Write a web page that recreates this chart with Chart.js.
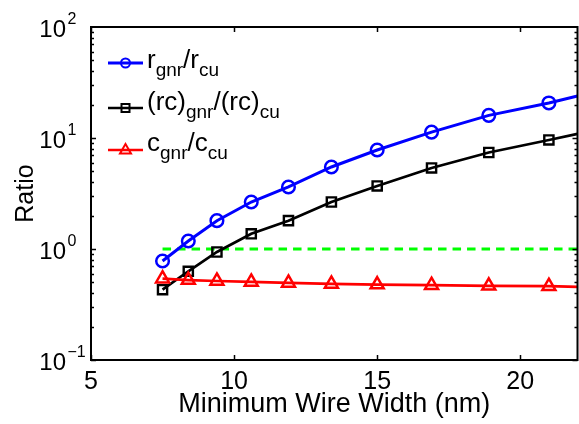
<!DOCTYPE html>
<html>
<head>
<meta charset="utf-8">
<script src="https://cdn.jsdelivr.net/npm/chart.js@4.4.1/dist/chart.umd.min.js"></script>
<style>
  html, body { margin: 0; padding: 0; background: #fff; overflow: hidden; }
</style>
</head>
<body>
<canvas id="ratio-chart" width="579" height="424"></canvas>
<script>
// minimum wire width (nm); the last entry is where the curves leave the box
const wireWidth = [7.5, 8.4, 9.4, 10.6, 11.9, 13.4, 15.0, 16.9, 18.9, 21.0, 22];
const rRatio = [0.78, 1.18, 1.8, 2.65, 3.62, 5.48, 7.8, 11.3, 16.0, 20.7, 23.9];
const rcRatio = [0.43, 0.63, 0.94, 1.37, 1.8, 2.65, 3.7, 5.37, 7.4, 9.6, 10.9];
const cRatio = [0.54, 0.525, 0.515, 0.505, 0.495, 0.485, 0.478, 0.472, 0.466, 0.462, 0.455];
const refWidth = [7.5, 22];
const refRatio = [1, 1];

const xTicks = [5, 10, 15, 20];
const yExponents = [-1, 0, 1, 2];

const FONT = "'Liberation Sans', Arial, Helvetica, sans-serif";

function toPoints(xs, ys) {
  return xs.map((x, i) => ({ x: x, y: ys[i] }));
}

// hide the marker on the edge point
function radii(r) {
  return wireWidth.map((w, i) => (i === wireWidth.length - 1 ? 0 : r));
}

const legendRows = [
  { color: "#0000ff", lw: 3, marker: "circle", lineY: 63, base: 68,
    parts: [["r", 0], ["gnr", 1], ["/r", 0], ["cu", 1]] },
  { color: "#000000", lw: 2.5, marker: "square", lineY: 108, base: 110,
    parts: [["(rc)", 0], ["gnr", 1], ["/(rc)", 0], ["cu", 1]] },
  { color: "#ff0000", lw: 2.5, marker: "triangle", lineY: 150, base: 151,
    parts: [["c", 0], ["gnr", 1], ["/c", 0], ["cu", 1]] },
];

function drawMarker(ctx, kind, x, y, color) {
  ctx.save();
  ctx.strokeStyle = color;
  ctx.lineWidth = 2;
  ctx.beginPath();
  if (kind === "circle") {
    ctx.arc(x, y, 4.5, 0, Math.PI * 2);
  } else if (kind === "square") {
    ctx.rect(x - 4, y - 4, 8, 8);
  } else {
    ctx.moveTo(x, y - 6);
    ctx.lineTo(x + 5.5, y + 3.5);
    ctx.lineTo(x - 5.5, y + 3.5);
    ctx.closePath();
  }
  ctx.stroke();
  ctx.restore();
}

const matlabFrame = {
  id: "matlabFrame",
  afterDraw(chart) {
    const ctx = chart.ctx;
    const a = chart.chartArea;
    const xs = chart.scales.x;
    const ys = chart.scales.y;
    ctx.save();
    ctx.strokeStyle = "#000";

    // box
    ctx.lineWidth = 2;
    ctx.strokeRect(a.left, a.top, a.right - a.left, a.bottom - a.top);

    // x ticks, inward, top and bottom
    ctx.lineWidth = 1.5;
    ctx.beginPath();
    xTicks.forEach((v) => {
      const px = Math.round(xs.getPixelForValue(v)) + 0.5;
      ctx.moveTo(px, a.bottom);
      ctx.lineTo(px, a.bottom - 5);
      ctx.moveTo(px, a.top);
      ctx.lineTo(px, a.top + 5);
    });
    // y ticks, major and minor, left and right
    for (let e = -1; e <= 1; e++) {
      for (let m = 1; m <= 9; m++) {
        const v = m * Math.pow(10, e);
        const py = Math.round(ys.getPixelForValue(v)) + 0.5;
        const len = m === 1 ? 5 : 3;
        ctx.moveTo(a.left, py);
        ctx.lineTo(a.left + len, py);
        ctx.moveTo(a.right, py);
        ctx.lineTo(a.right - len, py);
      }
    }
    ctx.stroke();

    // y tick labels 10^n
    ctx.fillStyle = "#000";
    yExponents.forEach((e) => {
      const py = ys.getPixelForValue(Math.pow(10, e));
      ctx.font = "24px " + FONT;
      ctx.textAlign = "right";
      ctx.textBaseline = "alphabetic";
      ctx.fillText("10", 66, py + 10);
      ctx.font = "16px " + FONT;
      ctx.textAlign = "left";
      ctx.fillText(e < 0 ? "\u2212" + (-e) : String(e), 67.5, py - 3);
    });

    // y axis title
    ctx.save();
    ctx.translate(33, (a.top + a.bottom) / 2);
    ctx.rotate(-Math.PI / 2);
    ctx.font = "25px " + FONT;
    ctx.textAlign = "center";
    ctx.textBaseline = "alphabetic";
    ctx.fillText("Ratio", 0, 0);
    ctx.restore();

    // legend
    legendRows.forEach((row) => {
      ctx.save();
      ctx.strokeStyle = row.color;
      ctx.lineWidth = row.lw;
      ctx.beginPath();
      ctx.moveTo(108, row.lineY);
      ctx.lineTo(143, row.lineY);
      ctx.stroke();
      ctx.restore();
      drawMarker(ctx, row.marker, 125.5, row.lineY, row.color);

      let tx = 147;
      ctx.textAlign = "left";
      ctx.textBaseline = "alphabetic";
      ctx.fillStyle = "#000";
      row.parts.forEach(([txt, sub]) => {
        ctx.font = (sub ? "19px " : "26px ") + FONT;
        ctx.fillText(txt, tx, row.base + (sub ? 8 : 0));
        tx += ctx.measureText(txt).width;
      });
    });

    ctx.restore();
  },
};

const ratioChart = new Chart(document.getElementById("ratio-chart"), {
  type: "line",
  data: {
    datasets: [
      {
        label: "ref",
        data: toPoints(refWidth, refRatio),
        borderColor: "#00ff00",
        borderWidth: 3,
        borderDash: [8.5, 6],
        pointRadius: 0,
        order: 10,
      },
      {
        label: "r_gnr/r_cu",
        data: toPoints(wireWidth, rRatio),
        borderColor: "#0000ff",
        borderWidth: 3,
        pointStyle: "circle",
        pointRadius: radii(6.3),
        pointBorderWidth: 2.5,
        pointBorderColor: "#0000ff",
        pointBackgroundColor: "rgba(0,0,0,0)",
        order: 3,
      },
      {
        label: "(rc)_gnr/(rc)_cu",
        data: toPoints(wireWidth, rcRatio),
        borderColor: "#000000",
        borderWidth: 2.7,
        pointStyle: "rect",
        pointRadius: radii(6.5),
        pointBorderWidth: 2.4,
        pointBorderColor: "#000000",
        pointBackgroundColor: "rgba(0,0,0,0)",
        order: 2,
      },
      {
        label: "c_gnr/c_cu",
        data: toPoints(wireWidth, cRatio),
        borderColor: "#ff0000",
        borderWidth: 2.7,
        pointStyle: "triangle",
        pointRadius: radii(7.5),
        pointBorderWidth: 2.5,
        pointBorderColor: "#ff0000",
        pointBackgroundColor: "rgba(0,0,0,0)",
        order: 1,
      },
    ],
  },
  options: {
    responsive: false,
    animation: false,
    events: [],
    layout: {
      autoPadding: false,
      padding: { top: 27, right: 1.5, left: 0, bottom: 0 },
    },
    plugins: {
      legend: { display: false },
      tooltip: { enabled: false },
    },
    scales: {
      x: {
        type: "linear",
        min: 5,
        max: 22,
        grid: { display: false, drawTicks: false },
        border: { display: false },
        afterBuildTicks: (axis) => {
          axis.ticks = xTicks.map((v) => ({ value: v }));
        },
        afterFit: (axis) => {
          axis.height = 64;
          axis.paddingLeft = 0;
          axis.paddingRight = 0;
        },
        ticks: {
          color: "#000",
          padding: 7,
          maxRotation: 0,
          autoSkip: false,
          font: { family: FONT, size: 25 },
        },
        title: {
          display: true,
          text: "Minimum Wire Width (nm)",
          color: "#000",
          padding: { top: 0, bottom: 3 },
          font: { family: FONT, size: 27 },
        },
      },
      y: {
        type: "logarithmic",
        min: 0.1,
        max: 100,
        grid: { display: false, drawTicks: false },
        border: { display: false },
        ticks: { display: false },
        afterFit: (axis) => {
          axis.width = 91;
          axis.paddingTop = 0;
          axis.paddingBottom = 0;
        },
      },
    },
  },
  plugins: [matlabFrame],
});
</script>
</body>
</html>
